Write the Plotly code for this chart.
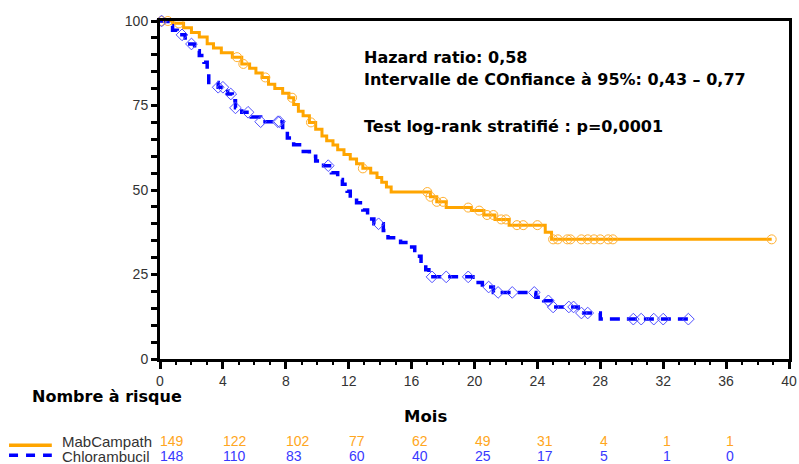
import numpy as np
import plotly.graph_objects as go

# ---------------- data ----------------
# MabCampath Kaplan-Meier steps (months, % survival after event)
mab_t = [0, 0.8, 1.5, 2.0, 2.5, 3.0, 3.4, 3.9, 4.6, 5.2, 5.7, 6.1, 6.5, 6.9, 7.3, 7.8,
         8.2, 8.5, 8.8, 9.1, 9.5, 9.9, 10.3, 10.6, 11.0, 11.3, 11.7, 12.1, 12.5, 12.9,
         13.4, 13.8, 14.1, 14.4, 14.7, 17.2, 17.6, 18.2, 19.8, 20.6, 21.3, 22.2, 24.5,
         24.9, 38.9]
mab_s = [100, 99.3, 98.0, 96.6, 95.3, 93.3, 92.0, 90.6, 89.3, 87.3, 86.0, 84.6, 83.3,
         81.3, 80.0, 78.6, 77.3, 75.3, 73.3, 72.0, 70.0, 68.0, 66.0, 64.6, 63.3, 61.9,
         60.5, 59.2, 57.8, 56.4, 55.0, 53.7, 52.3, 50.9, 49.4, 48.0, 46.5, 44.8, 43.9,
         42.6, 41.3, 39.6, 37.5, 35.4, 35.4]
mab_cens = [0.1, 0.5, 1.2, 4.9, 5.3, 6.7, 8.4, 9.6, 12.9, 17.0, 17.2, 17.6, 18.0, 19.6,
            20.3, 20.8, 21.2, 21.7, 22.0, 22.7, 23.1, 24.0, 25.0, 25.3, 25.9, 26.1, 26.8,
            27.2, 27.6, 28.0, 28.5, 28.8, 38.9]

# Chlorambucil Kaplan-Meier steps
chl_t = [0, 0.5, 0.8, 1.1, 1.6, 2.2, 2.5, 2.8, 3.0, 3.1, 3.7, 4.3, 4.6, 4.8, 5.2, 5.8,
         6.4, 7.8, 8.1, 8.5, 9.0, 9.5, 9.9, 10.4, 10.9, 11.3, 11.6, 11.9, 12.1, 12.5,
         12.9, 13.2, 13.6, 14.2, 14.5, 15.3, 15.8, 16.2, 16.6, 16.9, 17.1, 19.9, 20.5,
         21.2, 23.9, 24.4, 24.9, 26.6, 28.0, 33.6]
chl_s = [100, 98.6, 97.3, 95.9, 93.2, 91.2, 89.8, 87.8, 84.5, 81.8, 80.4, 78.4, 76.4,
         74.3, 73.0, 71.6, 70.2, 67.5, 65.4, 63.4, 61.4, 60.0, 58.6, 57.2, 55.1, 53.1,
         51.7, 49.6, 47.6, 46.2, 44.1, 41.4, 40.0, 38.0, 35.9, 34.5, 33.1, 30.4, 28.4,
         26.4, 24.3, 22.6, 21.3, 19.7, 18.3, 17.2, 15.4, 13.6, 11.8, 11.8]
chl_cens = [0.1, 1.4, 2.0, 3.7, 4.0, 4.5, 4.8, 5.6, 6.4, 7.5, 7.6, 10.7, 13.9, 17.3,
            18.2, 19.6, 20.9, 21.5, 22.4, 23.8, 24.7, 25.0, 26.0, 26.3, 26.8, 27.2,
            30.1, 30.6, 31.4, 32.0, 33.6]

risk_times = [0, 4, 8, 12, 16, 20, 24, 28, 32, 36]
risk_mab = [149, 122, 102, 77, 62, 49, 31, 4, 1, 1]
risk_chl = [148, 110, 83, 60, 40, 25, 17, 5, 1, 0]

x_ticks = [0, 4, 8, 12, 16, 20, 24, 28, 32, 36, 40]
y_ticks = [0, 25, 50, 75, 100]

ORANGE = "#FFA500"
BLUE = "#0000FF"


def km_at(times, surv, t):
    idx = np.searchsorted(np.array(times), np.array(t), side="right") - 1
    return np.array(surv)[idx]


fig = go.Figure()
fig.add_trace(go.Scatter(x=mab_t, y=mab_s, mode="lines", line_shape="hv",
                         line=dict(color=ORANGE, width=3), showlegend=False,
                         cliponaxis=False))
fig.add_trace(go.Scatter(x=chl_t, y=chl_s, mode="lines", line_shape="hv",
                         line=dict(color=BLUE, width=3.5, dash="10px,7px"),
                         showlegend=False, cliponaxis=False))
fig.add_trace(go.Scatter(x=mab_cens, y=km_at(mab_t, mab_s, mab_cens), mode="markers",
                         marker=dict(symbol="circle-open", size=9, color="#FFB030",
                                     line=dict(width=1)),
                         showlegend=False, cliponaxis=False))
fig.add_trace(go.Scatter(x=chl_cens, y=km_at(chl_t, chl_s, chl_cens), mode="markers",
                         marker=dict(symbol="diamond-open", size=9, color="#5050FF",
                                     line=dict(width=1)),
                         showlegend=False, cliponaxis=False))

FONT = "Liberation Sans, Arial, sans-serif"
BOLD = "DejaVu Sans, Liberation Sans, sans-serif"

annos = []
# statistics text
for txt, yp in [("Hazard ratio: 0,58", 0.893),
                ("Intervalle de COnfiance à 95%: 0,43 – 0,77", 0.828),
                ("Test log-rank stratifié : p=0,0001", 0.689)]:
    annos.append(dict(x=0.321, y=yp, xref="paper", yref="paper", text="<b>%s</b>" % txt,
                      showarrow=False, xanchor="left", yanchor="middle",
                      font=dict(size=16, color="black", family=BOLD)))

annos.append(dict(x=-0.207, y=-0.111, xref="paper", yref="paper",
                  text="<b>Nombre à risque</b>", showarrow=False, xanchor="left",
                  yanchor="middle", font=dict(size=16, color="black", family=BOLD)))
annos.append(dict(x=16.9, y=-0.17, xref="x", yref="paper", text="<b>Mois</b>",
                  showarrow=False, xanchor="center", yanchor="middle",
                  font=dict(size=16.5, color="black", family=BOLD)))

row_y = {"mab": -0.244, "chl": -0.288}
annos.append(dict(x=-0.159, y=row_y["mab"], xref="paper", yref="paper", text="MabCampath",
                  showarrow=False, xanchor="left", yanchor="middle",
                  font=dict(size=15, color="#333333", family=FONT)))
annos.append(dict(x=-0.159, y=row_y["chl"], xref="paper", yref="paper", text="Chlorambucil",
                  showarrow=False, xanchor="left", yanchor="middle",
                  font=dict(size=15, color="#333333", family=FONT)))
for t, a, b in zip(risk_times, risk_mab, risk_chl):
    annos.append(dict(x=t, y=row_y["mab"], xref="x", yref="paper", text=str(a),
                      showarrow=False, xanchor="left", yanchor="middle", xshift=-2,
                      font=dict(size=14, color="#FFA620", family=FONT)))
    annos.append(dict(x=t, y=row_y["chl"], xref="x", yref="paper", text=str(b),
                      showarrow=False, xanchor="left", yanchor="middle", xshift=-2,
                      font=dict(size=14, color="#3838FF", family=FONT)))

shapes = [
    dict(type="line", xref="paper", yref="paper", x0=-0.24, x1=-0.172,
         y0=-0.255, y1=-0.255, line=dict(color=ORANGE, width=3.5)),
    dict(type="line", xref="paper", yref="paper", x0=-0.24, x1=-0.172,
         y0=-0.285, y1=-0.285, line=dict(color=BLUE, width=3.5, dash="9px,8px")),
]

fig.update_layout(
    width=799, height=464,
    margin=dict(l=160, r=10, t=21, b=105, autoexpand=False),
    paper_bgcolor="white", plot_bgcolor="white",
    annotations=annos, shapes=shapes,
    font=dict(family=FONT, color="#333333"),
    xaxis=dict(range=[0, 40], tickvals=x_ticks, ticktext=[str(v) for v in x_ticks],
               automargin=False,
               showgrid=False, zeroline=False, showline=True, linewidth=3,
               linecolor="black", mirror=True, ticks="outside", ticklen=7,
               tickwidth=3, tickcolor="black",
               minor=dict(dtick=1, ticks="outside", ticklen=3, tickwidth=2,
                          tickcolor="black"),
               tickfont=dict(size=14, color="#333333", family=FONT)),
    yaxis=dict(range=[0, 100], tickvals=y_ticks, ticktext=[str(v) for v in y_ticks],
               automargin=False,
               showgrid=False, zeroline=False, showline=True, linewidth=3,
               linecolor="black", mirror=True, ticks="outside", ticklen=6,
               tickwidth=3, tickcolor="black",
               minor=dict(dtick=5, ticks="outside", ticklen=6, tickwidth=3,
                          tickcolor="black"),
               tickfont=dict(size=14, color="#333333", family=FONT)),
)

fig.write_html("out.html", config={"displayModeBar": False},
               post_script="document.body.style.margin='0';document.body.style.padding='0';")
